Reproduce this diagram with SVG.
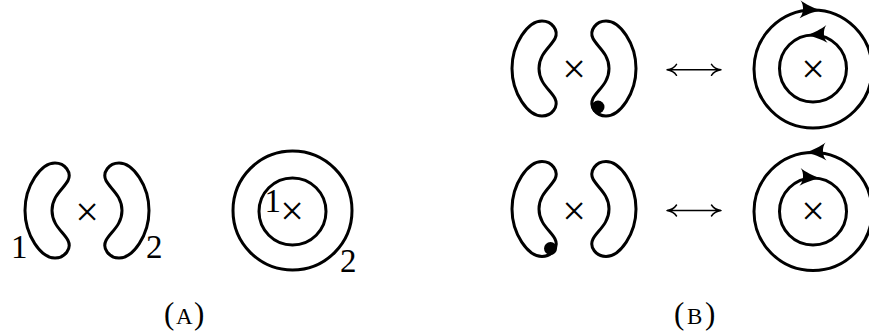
<svg xmlns="http://www.w3.org/2000/svg" xmlns:xlink="http://www.w3.org/1999/xlink" width="869" height="333" viewBox="0 0 869 333">
<style>
.ln{fill:none;stroke:#000;stroke-width:3}
.thin{fill:none;stroke:#000;stroke-width:1.5;stroke-linecap:round}
.t{font-family:"Liberation Serif","DejaVu Serif",serif;fill:#000}
.x{font-family:"Liberation Serif","DejaVu Serif",serif;font-size:42px;text-anchor:middle;fill:#000}
.num{font-family:"Liberation Serif","DejaVu Serif",serif;font-size:33px;fill:#000}
</style>
<defs>
<path id="bean" d="M -22,0 C -22,-25 -6,-47.5 8,-47.5 C 18,-47.5 25,-38 21,-30 C 17,-22 5,-15 5,0 C 5,15 17,22 21,30 C 25,38 18,47.5 8,47.5 C -6,47.5 -22,25 -22,0 Z"/>
<path id="ah" d="M 1.5,0 C -6,-2 -14,-5.5 -19,-9 C -15,-4 -15,4 -19,9 C -14,5.5 -6,2 1.5,0 Z" fill="#000"/>
</defs>
<rect width="869" height="333" fill="#fff"/>

<!-- Panel A -->
<g id="a-bean1">
<use xlink:href="#bean" href="#bean" class="ln" transform="translate(47,210.5)"/>
<text class="num" x="11" y="258">1</text>
</g>
<text class="x" x="87" y="226">×</text>
<g id="a-bean2">
<use xlink:href="#bean" href="#bean" class="ln" transform="translate(127,210.5) scale(-1,1)"/>
<text class="num" x="146" y="258">2</text>
</g>
<g id="a-circles">
<circle class="ln" cx="292.5" cy="210.5" r="59.5"/>
<circle class="ln" cx="292.5" cy="211.5" r="33.5"/>
<text class="num" x="264.5" y="211.5">1</text>
<text class="x" x="292" y="225">×</text>
<text class="num" x="340" y="271.5">2</text>
</g>
<text class="t" font-size="31" y="324"><tspan x="164">(</tspan><tspan x="176" font-size="23">A</tspan><tspan x="194">)</tspan></text>

<!-- Panel B, top row -->
<g id="b1-beans">
<use xlink:href="#bean" href="#bean" class="ln" transform="translate(534,68.5)"/>
<text class="x" x="574" y="83">×</text>
<use xlink:href="#bean" href="#bean" class="ln" transform="translate(614,68.5) scale(-1,1)"/>
<circle cx="598" cy="107" r="6.5" fill="#000"/>
</g>
<g id="b1-circles">
<circle class="ln" cx="813" cy="69" r="59"/>
<circle class="ln" cx="813" cy="68.5" r="33.5"/>
<text class="x" x="813" y="82.5">×</text>
<use xlink:href="#ah" href="#ah" transform="translate(819,10.3) rotate(3)"/>
<use xlink:href="#ah" href="#ah" transform="translate(808,35.2) scale(-1,1) rotate(4)"/>
</g>

<!-- Panel B, bottom row -->
<g id="b2-beans">
<use xlink:href="#bean" href="#bean" class="ln" transform="translate(534,209)"/>
<text class="x" x="574" y="224.5">×</text>
<use xlink:href="#bean" href="#bean" class="ln" transform="translate(614,209) scale(-1,1)"/>
<circle cx="550.5" cy="248.5" r="6.5" fill="#000"/>
</g>
<g id="b2-circles">
<circle class="ln" cx="813" cy="211.5" r="59"/>
<circle class="ln" cx="813" cy="211.5" r="33.5"/>
<text class="x" x="813" y="225">×</text>
<use xlink:href="#ah" href="#ah" transform="translate(807,152.5) scale(-1,1) rotate(3)"/>
<use xlink:href="#ah" href="#ah" transform="translate(819,178.2) rotate(4)"/>
</g>
<text class="t" font-size="31" y="324"><tspan x="674">(</tspan><tspan x="687" font-size="23">B</tspan><tspan x="705">)</tspan></text>

<g id="connectors">
<path class="thin" d="M 667,69.8 L 721,69.8 M 676.5,64.3 C 674.5,67.3 671.5,69.2 667,69.8 C 671.5,70.4 674.5,72.3 676.5,75.3 M 711.5,64.3 C 713.5,67.3 716.5,69.2 721,69.8 C 716.5,70.4 713.5,72.3 711.5,75.3"/>
<path class="thin" d="M 667,210.5 L 721,210.5 M 676.5,205 C 674.5,208 671.5,209.9 667,210.5 C 671.5,211.1 674.5,213 676.5,216 M 711.5,205 C 713.5,208 716.5,209.9 721,210.5 C 716.5,211.1 713.5,213 711.5,216"/>
</g>
</svg>
